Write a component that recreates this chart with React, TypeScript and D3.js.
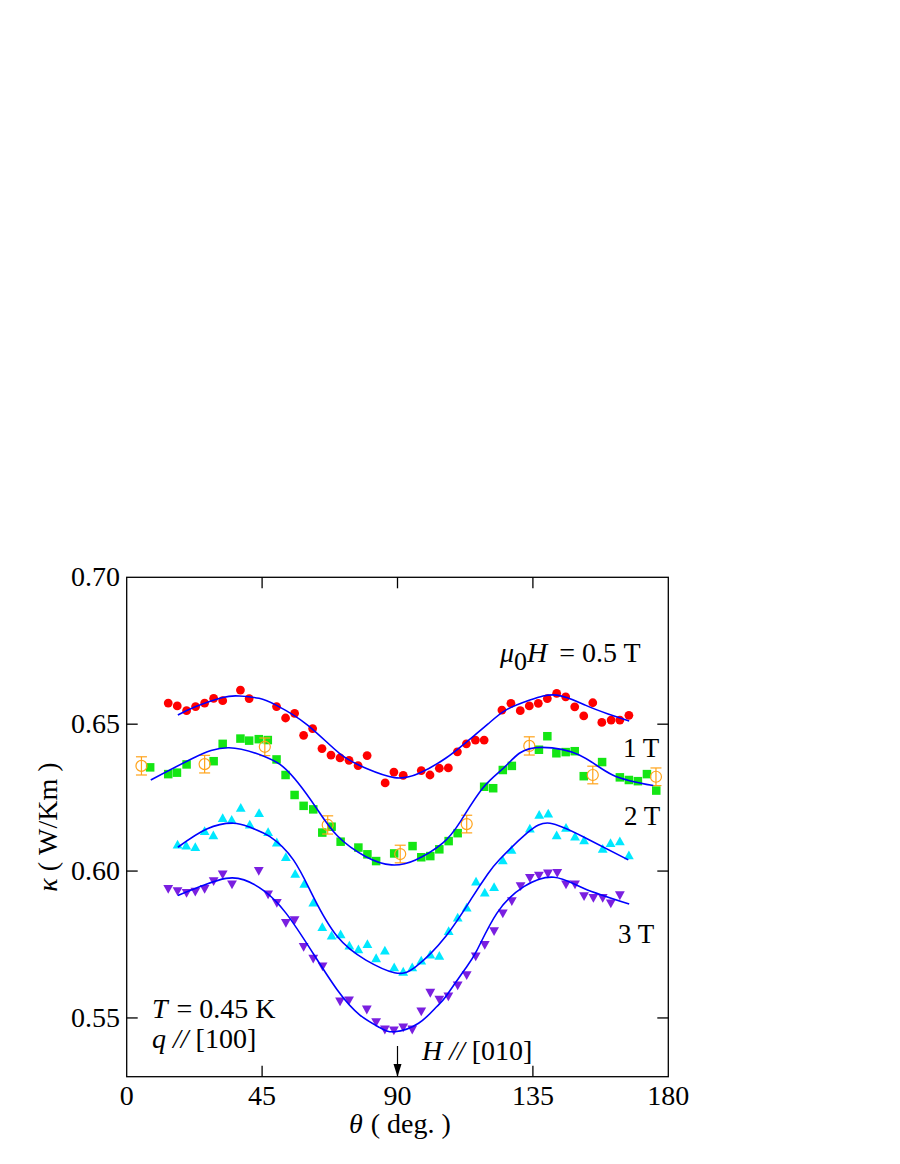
import React from "react";
import * as d3 from "d3";

// ---- data (θ in degrees, κ in W/Km) ----
const theta05 = [13.8,16.8,19.9,22.9,25.9,28.9,31.9,37.8,40.7,49.8,52.8,55.8,58.8,61.8,64.9,67.9,70.9,73.9,76.9,79.9,85.9,88.8,91.9,97.9,100.8,103.9,106.9,109.9,112.9,115.9,118.8,124.7,127.7,130.8,133.8,136.8,139.8,142.9,145.9,148.9,151.9,154.9,157.9,161.0,163.9,166.9];
const kappa05 = [0.6572,0.6562,0.6546,0.6560,0.6572,0.6588,0.6580,0.6616,0.6587,0.6560,0.6521,0.6537,0.6462,0.6485,0.6417,0.6395,0.6385,0.6377,0.6359,0.6393,0.6300,0.6337,0.6326,0.6342,0.6327,0.6350,0.6351,0.6406,0.6433,0.6446,0.6446,0.6548,0.6571,0.6546,0.6562,0.6571,0.6587,0.6605,0.6593,0.6559,0.6528,0.6573,0.6506,0.6514,0.6514,0.6530];

const theta1 = [7.8,13.8,16.7,19.9,28.9,31.9,37.8,40.7,43.9,46.9,49.8,52.8,55.8,58.8,62.0,65.0,68.1,71.1,77.0,80.0,82.9,88.9,95.0,97.9,100.9,103.9,107.0,110.0,118.8,121.8,125.0,128.0,137.0,139.8,142.8,145.9,148.9,151.9,158.0,163.9,166.9,169.9,172.9,176.0];
const kappa1 = [0.6353,0.6330,0.6335,0.6363,0.6374,0.6433,0.6451,0.6444,0.6449,0.6446,0.6380,0.6327,0.6259,0.6222,0.6210,0.6131,0.6151,0.6100,0.6080,0.6057,0.6034,0.6060,0.6085,0.6047,0.6051,0.6074,0.6102,0.6129,0.6287,0.6282,0.6344,0.6358,0.6413,0.6459,0.6401,0.6405,0.6408,0.6323,0.6371,0.6319,0.6310,0.6306,0.6330,0.6274];

const thetaOpen = [4.9,25.9,45.9,66.8,90.9,113.0,133.8,154.9,175.9];
const kappaOpen = [0.6358,0.6364,0.6423,0.6157,0.6058,0.6160,0.6426,0.6327,0.6321];
const errOpen = [0.0031,0.0030,0.0030,0.0031,0.0030,0.0030,0.0031,0.0030,0.0030];

const theta2 = [16.9,19.8,22.8,25.9,28.8,31.9,34.9,37.9,40.9,44.0,47.0,49.9,52.9,56.0,59.0,62.0,65.0,68.1,71.1,74.0,77.0,80.0,82.9,85.8,88.9,91.9,94.9,97.9,100.9,103.9,107.0,110.0,113.0,116.1,119.0,122.1,125.0,127.9,134.0,137.1,140.1,142.9,146.0,149.0,152.0,158.2,160.8,163.9,166.9];
const kappa2 = [0.6092,0.6088,0.6083,0.6138,0.6123,0.6182,0.6176,0.6217,0.6160,0.6199,0.6134,0.6099,0.6049,0.5992,0.5958,0.5894,0.5811,0.5782,0.5786,0.5748,0.5735,0.5753,0.5705,0.5731,0.5674,0.5659,0.5674,0.5697,0.5717,0.5713,0.5797,0.5843,0.5877,0.5966,0.5928,0.5947,0.6038,0.6074,0.6146,0.6193,0.6197,0.6123,0.6149,0.6119,0.6106,0.6077,0.6097,0.6103,0.6055];

const theta3 = [13.8,16.9,19.9,22.8,25.9,28.9,31.9,35.0,43.9,47.0,49.9,52.9,55.8,58.8,62.0,65.1,70.9,73.9,79.8,82.9,85.8,88.8,91.9,94.9,97.9,100.9,103.9,106.9,110.0,113.0,116.0,119.0,122.1,125.0,128.0,130.9,134.0,137.0,140.0,143.1,146.0,149.0,152.0,155.1,158.2,160.9,163.9];
const kappa3 = [0.5938,0.5930,0.5924,0.5928,0.5938,0.5964,0.5987,0.5953,0.5999,0.5919,0.5890,0.5822,0.5831,0.5740,0.5700,0.5674,0.5555,0.5558,0.5527,0.5484,0.5459,0.5456,0.5466,0.5459,0.5521,0.5584,0.5561,0.5572,0.5609,0.5644,0.5708,0.5747,0.5794,0.5854,0.5896,0.5947,0.5975,0.5983,0.5990,0.5992,0.5953,0.5953,0.5913,0.5907,0.5907,0.5888,0.5916];

// fit curves
const fitTheta05 = [17,23,31.9,37.4,44,49.8,60,70.7,79.5,89,97.2,106,113,120,126,134,143,152.6,160,167];
const fitKappa05 = [0.6531,0.6560,0.6591,0.6596,0.6588,0.6564,0.6498,0.6401,0.6350,0.6318,0.6333,0.6384,0.6440,0.6500,0.6548,0.6582,0.6599,0.6564,0.6535,0.6511];
const fitTheta1 = [8,22,34,46,52,57,63,70,79.5,88,96,105,111,118.3,125.2,130.5,138,150.4,161.5,175];
const fitKappa1 = [0.6310,0.6384,0.6420,0.6389,0.6355,0.6300,0.6215,0.6120,0.6049,0.6021,0.6038,0.6095,0.6170,0.6282,0.6350,0.6401,0.6421,0.6395,0.6327,0.6291];
const fitTheta2 = [17,26.6,35.4,41,47.6,55.4,62,70,79.5,89,96,106,115,120,124,133,140.7,151.7,166.7];
const fitKappa2 = [0.6081,0.6143,0.6163,0.6149,0.6117,0.6038,0.5913,0.5777,0.5697,0.5654,0.5674,0.5777,0.5913,0.5990,0.6040,0.6129,0.6163,0.6117,0.6038];
const fitTheta3 = [17,26,33,39,46,53,61,70,77.5,84,89,97,103,106,112,116.3,123,132,142,152,167];
const fitKappa3 = [0.5917,0.5953,0.5975,0.5970,0.5930,0.5856,0.5735,0.5595,0.5510,0.5468,0.5453,0.5482,0.5538,0.5572,0.5660,0.5728,0.5856,0.5947,0.5979,0.5941,0.5888];

const xTicks = [0, 45, 90, 135, 180];
const yTicks = [0.55, 0.60, 0.65, 0.70];
const yTickLabels = ["0.55", "0.60", "0.65", "0.70"];

const FONT = "'Liberation Serif', 'Times New Roman', Times, serif";
const RED = "#ff0000";
const GREEN = "#14e614";
const ORANGE = "#ffa31a";
const CYAN = "#00e8ff";
const PURPLE = "#7a1fe0";
const BLUE = "#0000ff";

export default function App() {
  const L = 126.7, R = 668.3, T = 577.3, B = 1076.7;
  const x = d3.scaleLinear().domain([0, 180]).range([L, R]);
  const y = d3.scaleLinear().domain([0.53, 0.70]).range([B, T]);
  const line = d3.line<[number, number]>().x(d => x(d[0])).y(d => y(d[1])).curve(d3.curveNatural);
  const fits = [
    [fitTheta05, fitKappa05],
    [fitTheta1, fitKappa1],
    [fitTheta2, fitKappa2],
    [fitTheta3, fitKappa3],
  ];
  const tickLen = 11;
  const sq = 8.5;
  const tw = 9.8, th = 8.8;
  return (
    <svg width={900} height={1164} style={{ position: "absolute", left: 0, top: 0, background: "#fff", fontFamily: FONT }}>
      {/* markers */}
      {theta05.map((t, i) => (
        <circle key={"r" + i} cx={x(t)} cy={y(kappa05[i])} r={4.4} fill={RED} />
      ))}
      {theta1.map((t, i) => (
        <rect key={"g" + i} x={x(t) - sq / 2} y={y(kappa1[i]) - sq / 2} width={sq} height={sq} fill={GREEN} />
      ))}
      {theta2.map((t, i) => {
        const cx = x(t), cy = y(kappa2[i]);
        return <path key={"c" + i} d={`M${cx - tw / 2},${cy + th / 2}L${cx + tw / 2},${cy + th / 2}L${cx},${cy - th / 2}Z`} fill={CYAN} />;
      })}
      {theta3.map((t, i) => {
        const cx = x(t), cy = y(kappa3[i]);
        return <path key={"p" + i} d={`M${cx - tw / 2},${cy - th / 2}L${cx + tw / 2},${cy - th / 2}L${cx},${cy + th / 2}Z`} fill={PURPLE} />;
      })}
      {thetaOpen.map((t, i) => {
        const cx = x(t), cy = y(kappaOpen[i]);
        const y1 = y(kappaOpen[i] + errOpen[i]), y2 = y(kappaOpen[i] - errOpen[i]);
        return (
          <g key={"o" + i} stroke={ORANGE} strokeWidth={1.2} fill="none">
            <circle cx={cx} cy={cy} r={5.5} />
            <line x1={cx} x2={cx} y1={y1} y2={y2} />
            <line x1={cx - 5.5} x2={cx + 5.5} y1={y1} y2={y1} />
            <line x1={cx - 5.5} x2={cx + 5.5} y1={y2} y2={y2} />
          </g>
        );
      })}
      {/* fit lines */}
      {fits.map(([ts, ks], j) => (
        <path key={"f" + j} d={line(ts.map((t, i) => [t, ks[i]]) as [number, number][]) || ""} fill="none" stroke={BLUE} strokeWidth={1.6} />
      ))}
      {/* frame */}
      <rect x={L} y={T} width={R - L} height={B - T} fill="none" stroke="#000" strokeWidth={1.3} />
      {xTicks.slice(1, -1).map(v => (
        <g key={"xt" + v} stroke="#000" strokeWidth={1.3}>
          <line x1={x(v)} x2={x(v)} y1={B} y2={B - tickLen} />
          <line x1={x(v)} x2={x(v)} y1={T} y2={T + tickLen} />
        </g>
      ))}
      {yTicks.slice(0, -1).map(v => (
        <g key={"yt" + v} stroke="#000" strokeWidth={1.3}>
          <line x1={L} x2={L + tickLen} y1={y(v)} y2={y(v)} />
          <line x1={R} x2={R - tickLen} y1={y(v)} y2={y(v)} />
        </g>
      ))}
      {xTicks.map(v => (
        <text key={"xl" + v} x={x(v)} y={1105} fontSize={28} textAnchor="middle">{v}</text>
      ))}
      {yTicks.map((v, i) => (
        <text key={"yl" + v} x={120} y={y(v) + 9} fontSize={28} textAnchor="end">{yTickLabels[i]}</text>
      ))}
      {/* axis titles */}
      <text x={349} y={1133} fontSize={28}>
        <tspan fontStyle="italic">θ</tspan>
        <tspan dx={8}>( deg. )</tspan>
      </text>
      <text transform={`translate(57, 827) rotate(-90)`} fontSize={28} textAnchor="middle">
        <tspan fontStyle="italic">κ</tspan>
        <tspan dx={7}>( W/Km )</tspan>
      </text>
      {/* annotations */}
      <text x={500} y={662} fontSize={28}>
        <tspan fontStyle="italic">μ</tspan>
        <tspan fontSize={26} dy={8}>0</tspan>
        <tspan fontStyle="italic" dy={-8}>H</tspan>
        <tspan dx={12}>= 0.5 T</tspan>
      </text>
      <text x={623} y={757} fontSize={27}>1 T</text>
      <text x={624} y={825} fontSize={27}>2 T</text>
      <text x={618} y={943} fontSize={27}>3 T</text>
      <text x={152} y={1018} fontSize={28}>
        <tspan fontStyle="italic">T</tspan>
        <tspan dx={2}> = 0.45 K</tspan>
      </text>
      <text x={152} y={1048} fontSize={28}>
        <tspan fontStyle="italic">q //</tspan>
        <tspan> [100]</tspan>
      </text>
      <text x={422} y={1060} fontSize={28}>
        <tspan fontStyle="italic">H //</tspan>
        <tspan> [010]</tspan>
      </text>
      <line x1={x(90)} x2={x(90)} y1={1046} y2={1066} stroke="#000" strokeWidth={1.2} />
      <path d={`M${x(90) - 4},${1064}L${x(90) + 4},${1064}L${x(90)},${B}Z`} fill="#000" />
    </svg>
  );
}
